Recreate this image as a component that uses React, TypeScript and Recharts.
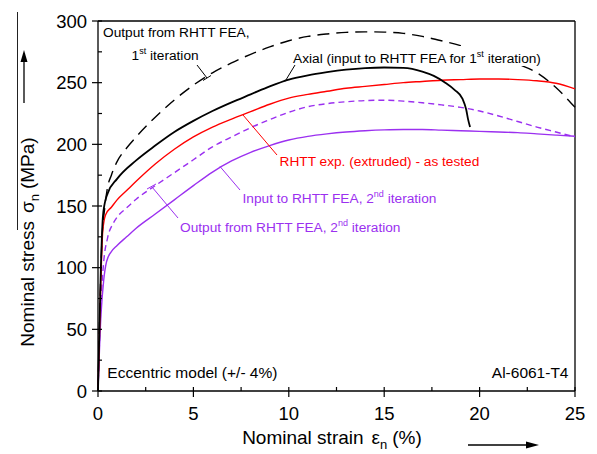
import React from "react"
import { LineChart, Line, XAxis, YAxis, ReferenceLine } from "recharts"

// strain (%) / stress (MPa)
const axialStrain = [0, 0.15, 0.25, 0.35, 0.5, 1, 2, 3, 4, 5, 6, 7, 8, 9, 10, 11, 12, 13, 14, 15, 16, 17, 17.6, 18.2, 18.7, 19.1, 19.3, 19.4, 19.5]
const axialStress = [0, 100, 140, 152, 160, 172, 187, 199, 210, 219, 227, 234, 240.5, 247, 252.5, 256, 258.5, 260.5, 261.8, 262.3, 262, 259, 255.5, 250, 244, 237, 228, 220, 214]

const fea1Strain = [0, 0.2, 0.35, 0.5, 0.7, 1, 1.5, 2, 3, 4, 5, 6, 7, 8, 9, 10, 11, 12, 13, 14, 15, 16, 17, 18, 19, 20, 21, 22, 23, 24, 25]
const fea1Stress = [0, 120, 148, 165, 175, 186, 197, 206, 222, 236, 248, 258, 266, 273, 279, 284, 287.5, 289.5, 290.8, 291.2, 291, 290, 287.5, 284, 280, 275, 270, 265, 258, 246, 230]

const expStrain = [0, 0.15, 0.25, 0.4, 0.7, 1, 1.5, 2, 3, 4, 5, 6, 7, 8, 9, 10, 11, 12, 13, 14, 15, 16, 17, 18, 19, 20, 21, 22, 23, 24, 25]
const expStress = [0, 90, 130, 143, 149, 155, 162.5, 170, 184, 196, 206, 214, 220.5, 226.5, 232.5, 237.5, 240.5, 243, 245.5, 247, 248.5, 250, 251, 252, 252.5, 253, 253, 252.5, 251.5, 249.5, 245]

const input2Strain = [0, 0.15, 0.3, 0.5, 0.8, 1, 1.5, 2, 3, 4, 5, 6, 7, 8, 9, 10, 11, 12, 13, 14, 15, 16, 17, 18, 19, 20, 21, 22, 23, 24, 25]
const input2Stress = [0, 70, 105, 124, 136, 141, 148.5, 155.5, 166.5, 177, 187.5, 198, 206, 213.5, 220, 226, 230.5, 233, 234.5, 235.5, 235.8, 235, 233.7, 232, 230, 227, 223, 218.5, 214, 210, 206]

const output2Strain = [0, 0.15, 0.3, 0.45, 0.7, 1, 1.5, 2, 3, 4, 5, 6, 7, 8, 9, 10, 11, 12, 13, 14, 15, 16, 17, 18, 19, 20, 21, 22, 23, 24, 25]
const output2Stress = [0, 60, 90, 105, 113, 118, 125, 132, 143.5, 155, 166.5, 177.5, 186.5, 193.5, 199, 203.5, 206.5, 208.5, 210, 211, 211.7, 212, 212, 211.5, 211, 210.5, 210, 209.5, 208.5, 207.5, 206.5]

const xTicks = [0, 2.5, 5, 7.5, 10, 12.5, 15, 17.5, 20, 22.5, 25]
const yTicks = [0, 25, 50, 75, 100, 125, 150, 175, 200, 225, 250, 275, 300]

const zip = (xs: number[], ys: number[]) => xs.map((x, i) => ({ x, y: ys[i] }))

const FONT = "'Liberation Sans', Arial, sans-serif"
const PURPLE = "#9b30f0"
const RED = "#ff0000"

const XTick = (props: any) => {
  const { x, y, payload } = props
  const major = payload.value % 5 === 0
  return (
    <g>
      <line x1={x} x2={x} y1={y - 4} y2={major ? y + 6 : y} stroke="#000" strokeWidth={1.2} />
      {major && (
        <text x={x} y={y + 29} textAnchor="middle" fontSize={18.5} fontFamily={FONT} fill="#000">
          {payload.value}
        </text>
      )}
    </g>
  )
}

const YTick = (props: any) => {
  const { x, y, payload } = props
  const major = payload.value % 50 === 0
  return (
    <g>
      <line x1={major ? x - 6 : x} x2={x + 4} y1={y} y2={y} stroke="#000" strokeWidth={1.2} />
      {major && (
        <text x={x - 11} y={y + 6.5} textAnchor="end" fontSize={18.5} fontFamily={FONT} fill="#000">
          {payload.value}
        </text>
      )}
    </g>
  )
}

function Notes() {
  return (
    <svg width={597} height={454} style={{ position: "absolute", left: 0, top: 0, pointerEvents: "none" }} fontFamily={FONT}>
      {/* stray page rule at far left */}
      <line x1={17.5} x2={17.5} y1={12} y2={230} stroke="#222" strokeWidth={1} />

      {/* y title + arrow */}
      <text transform="rotate(-90 34 242)" x={34} y={242} textAnchor="middle" fontSize={19} fill="#000">
        Nominal stress<tspan dx={8}>σ</tspan>
        <tspan fontSize={13} dy={5}>n</tspan>
        <tspan dy={-5} dx={5}>(MPa)</tspan>
      </text>
      <line x1={24} x2={24} y1={103} y2={60} stroke="#000" strokeWidth={1.3} />
      <polygon points="24,50 20.5,62 27.5,62" fill="#000" />

      {/* x title + arrow */}
      <text x={332} y={444} textAnchor="middle" fontSize={19} fill="#000">
        Nominal strain<tspan dx={8}>ε</tspan>
        <tspan fontSize={13} dy={5}>n</tspan>
        <tspan dy={-5} dx={5}>(%)</tspan>
      </text>
      <line x1={468} x2={528} y1={445} y2={445} stroke="#000" strokeWidth={1.3} />
      <polygon points="539,445 526,441.5 526,448.5" fill="#000" />

      {/* 1st iteration FEA output */}
      <text x={103} y={37} fontSize={13.7} fill="#000">Output from RHTT FEA,</text>
      <text x={131.5} y={60} fontSize={13.7} fill="#000">
        1<tspan fontSize={9} dy={-6}>st</tspan>
        <tspan dy={6}> iteration</tspan>
      </text>
      <line x1={197} y1={65} x2={207} y2={78} stroke="#000" strokeWidth={1} />
      <line x1={203} y1={80.5} x2={211} y2={75.5} stroke="#000" strokeWidth={1} />

      {/* axial label, masks dashed curve behind it */}
      <rect x={291} y={46} width={254} height={20} fill="#fff" />
      <text x={293} y={63.3} fontSize={13.7} fill="#000">
        Axial (input to RHTT FEA for 1<tspan fontSize={9} dy={-6}>st</tspan>
        <tspan dy={6}> iteration)</tspan>
      </text>
      <line x1={295} y1={65} x2={285} y2={81.5} stroke="#000" strokeWidth={1} />

      {/* experimental */}
      <text x={279.5} y={165.7} fontSize={13.7} fill={RED}>RHTT exp. (extruded) - as tested</text>
      <line x1={243} y1={115} x2={277} y2={155} stroke={RED} strokeWidth={1} />

      {/* 2nd iteration input */}
      <text x={242.5} y={202.7} fontSize={13.7} fill={PURPLE}>
        Input to RHTT FEA, 2<tspan fontSize={9} dy={-6}>nd</tspan>
        <tspan dy={6}> iteration</tspan>
      </text>
      <line x1={220} y1={166.5} x2={240} y2={190} stroke={PURPLE} strokeWidth={1} />

      {/* 2nd iteration output */}
      <text x={180} y={231.7} fontSize={13.7} fill={PURPLE}>
        Output from RHTT FEA, 2<tspan fontSize={9} dy={-6}>nd</tspan>
        <tspan dy={6}> iteration</tspan>
      </text>
      <line x1={152} y1={187} x2={178} y2={218} stroke={PURPLE} strokeWidth={1} />
      <line x1={147} y1={189} x2={156} y2={184} stroke={PURPLE} strokeWidth={1} />

      <text x={107.3} y={378.3} fontSize={15.5} fill="#000">Eccentric model (+/- 4%)</text>
      <text x={568.5} y={378.3} fontSize={15.5} fill="#000" textAnchor="end">Al-6061-T4</text>
    </svg>
  )
}

export default function App() {
  return (
    <div style={{ position: "absolute", left: 0, top: 0, width: 597, height: 454, background: "#fff" }}>
      <LineChart width={597} height={454} margin={{ top: 21, right: 22, left: 38, bottom: 33 }}>
        <XAxis
          dataKey="x"
          type="number"
          domain={[0, 25]}
          ticks={xTicks}
          interval={0}
          tick={XTick}
          tickLine={false}
          tickSize={0}
          tickMargin={0}
          height={30}
          axisLine={{ stroke: "#000", strokeWidth: 1.3 }}
        />
        <YAxis
          type="number"
          domain={[0, 300]}
          ticks={yTicks}
          interval={0}
          tick={YTick}
          tickLine={false}
          tickSize={0}
          tickMargin={0}
          width={60}
          axisLine={{ stroke: "#000", strokeWidth: 1.3 }}
        />
        <ReferenceLine y={300} stroke="#000" strokeWidth={1.3} />
        <ReferenceLine x={25} stroke="#000" strokeWidth={1.3} />

        <Line data={zip(fea1Strain, fea1Stress)} dataKey="y" type="monotone" stroke="#000" strokeWidth={1.4} strokeDasharray="12 7" dot={false} isAnimationActive={false} />
        <Line data={zip(output2Strain, output2Stress)} dataKey="y" type="monotone" stroke={PURPLE} strokeWidth={1.4} dot={false} isAnimationActive={false} />
        <Line data={zip(input2Strain, input2Stress)} dataKey="y" type="monotone" stroke={PURPLE} strokeWidth={1.4} strokeDasharray="6 4" dot={false} isAnimationActive={false} />
        <Line data={zip(expStrain, expStress)} dataKey="y" type="monotone" stroke={RED} strokeWidth={1.4} dot={false} isAnimationActive={false} />
        <Line data={zip(axialStrain, axialStress)} dataKey="y" type="monotone" stroke="#000" strokeWidth={1.8} dot={false} isAnimationActive={false} />
      </LineChart>
      <Notes />
    </div>
  )
}
